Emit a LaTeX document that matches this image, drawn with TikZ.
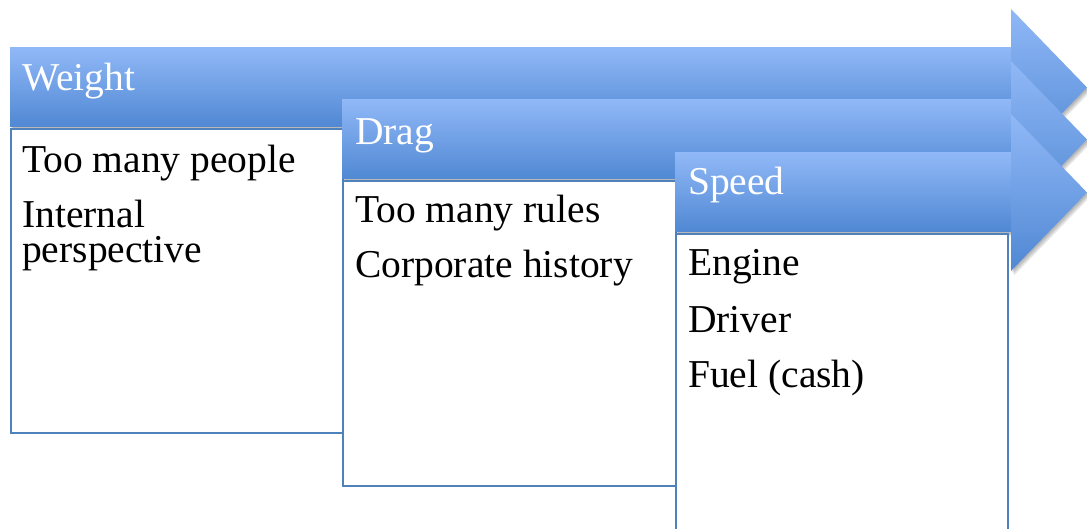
\documentclass[tikz,border=0pt]{standalone}
\usepackage{fontspec}
\setmainfont{Liberation Serif}
\definecolor{hdtop}{RGB}{144,184,247}
\definecolor{hdbot}{RGB}{80,136,211}
\definecolor{boxline}{RGB}{79,129,189}
\tikzset{
  hdfill/.style={top color=hdtop, bottom color=hdbot, draw=none},
  shadowpath/.style={fill=black, opacity=0.10, draw=none},
  itembox/.style={draw=boxline, line width=1.6pt, fill=white, inner sep=0pt, anchor=north west},
  hdtext/.style={text=white, font=\fontsize{39.5}{39.5}\selectfont, anchor=base west, inner sep=0pt},
  itemtext/.style={text=black, font=\fontsize{39.5}{35}\selectfont, anchor=base west, inner sep=0pt, text height=26pt, text depth=4pt},
  itempara/.style={text=black, font=\fontsize{39.5}{35}\selectfont, anchor=north west, inner sep=0pt, align=left},
}
\begin{document}
\begin{tikzpicture}[x=1pt,y=-1pt]
\useasboundingbox (0,0) rectangle (1087,529);
\fill[white] (0,0) rectangle (1087,529);
\clip (0,0) rectangle (1087,529);

% ---- Arrow 1 : Weight
\foreach \d in {1,2,3}{
  \path[shadowpath] (10+\d,48+1.5*\d) -- (1011+\d,48+1.5*\d) -- (1011+\d,9+1.5*\d) -- (1087+\d,87.5+1.5*\d) -- (1011+\d,166+1.5*\d) -- (1011+\d,127+1.5*\d) -- (10+\d,127+1.5*\d) -- cycle;
}
\path[hdfill] (10,48) rectangle (1011,127);
\path[hdfill] (1011,9) -- (1087,87.5) -- (1011,166) -- cycle;
\node[itembox, minimum width=332pt, minimum height=304pt] (b1) at (10,128) {};
\node[hdtext] (w) at (22,91) {Weight};
\node[itemtext] (w1) at (22,173) {Too many people};
\node[itempara] (w2) at (22,200) {Internal\\perspective};

% ---- Arrow 2 : Drag
\foreach \d in {1,2,3}{
  \path[shadowpath] (342+\d,100+1.5*\d) -- (1011+\d,100+1.5*\d) -- (1011+\d,61+1.5*\d) -- (1087+\d,139.5+1.5*\d) -- (1011+\d,218+1.5*\d) -- (1011+\d,179+1.5*\d) -- (342+\d,179+1.5*\d) -- cycle;
}
\path[hdfill] (342,100) rectangle (1011,179);
\path[hdfill] (1011,61) -- (1087,139.5) -- (1011,218) -- cycle;
\node[itembox, minimum width=333pt, minimum height=305pt] (b2) at (342,180) {};
\node[hdtext] (d) at (355,145) {Drag};
\node[itemtext] (d1) at (355,223) {Too many rules};
\node[itemtext] (d2) at (355,278) {Corporate history};

% ---- Arrow 3 : Speed
\foreach \d in {1,2,3}{
  \path[shadowpath] (675+\d,153+1.5*\d) -- (1011+\d,153+1.5*\d) -- (1011+\d,114+1.5*\d) -- (1087+\d,192.5+1.5*\d) -- (1011+\d,271+1.5*\d) -- (1011+\d,232+1.5*\d) -- (675+\d,232+1.5*\d) -- cycle;
}
\path[hdfill] (675,153) rectangle (1011,232);
\path[hdfill] (1011,114) -- (1087,192.5) -- (1011,271) -- cycle;
\node[itembox, minimum width=332pt, minimum height=305pt] (b3) at (675,233) {};
\node[hdtext] (s) at (688,195) {Speed};
\node[itemtext] (s1) at (688,276) {Engine};
\node[itemtext] (s2) at (688,332) {Driver};
\node[itemtext] (s3) at (688,387) {Fuel (cash)};
\end{tikzpicture}
\end{document}
